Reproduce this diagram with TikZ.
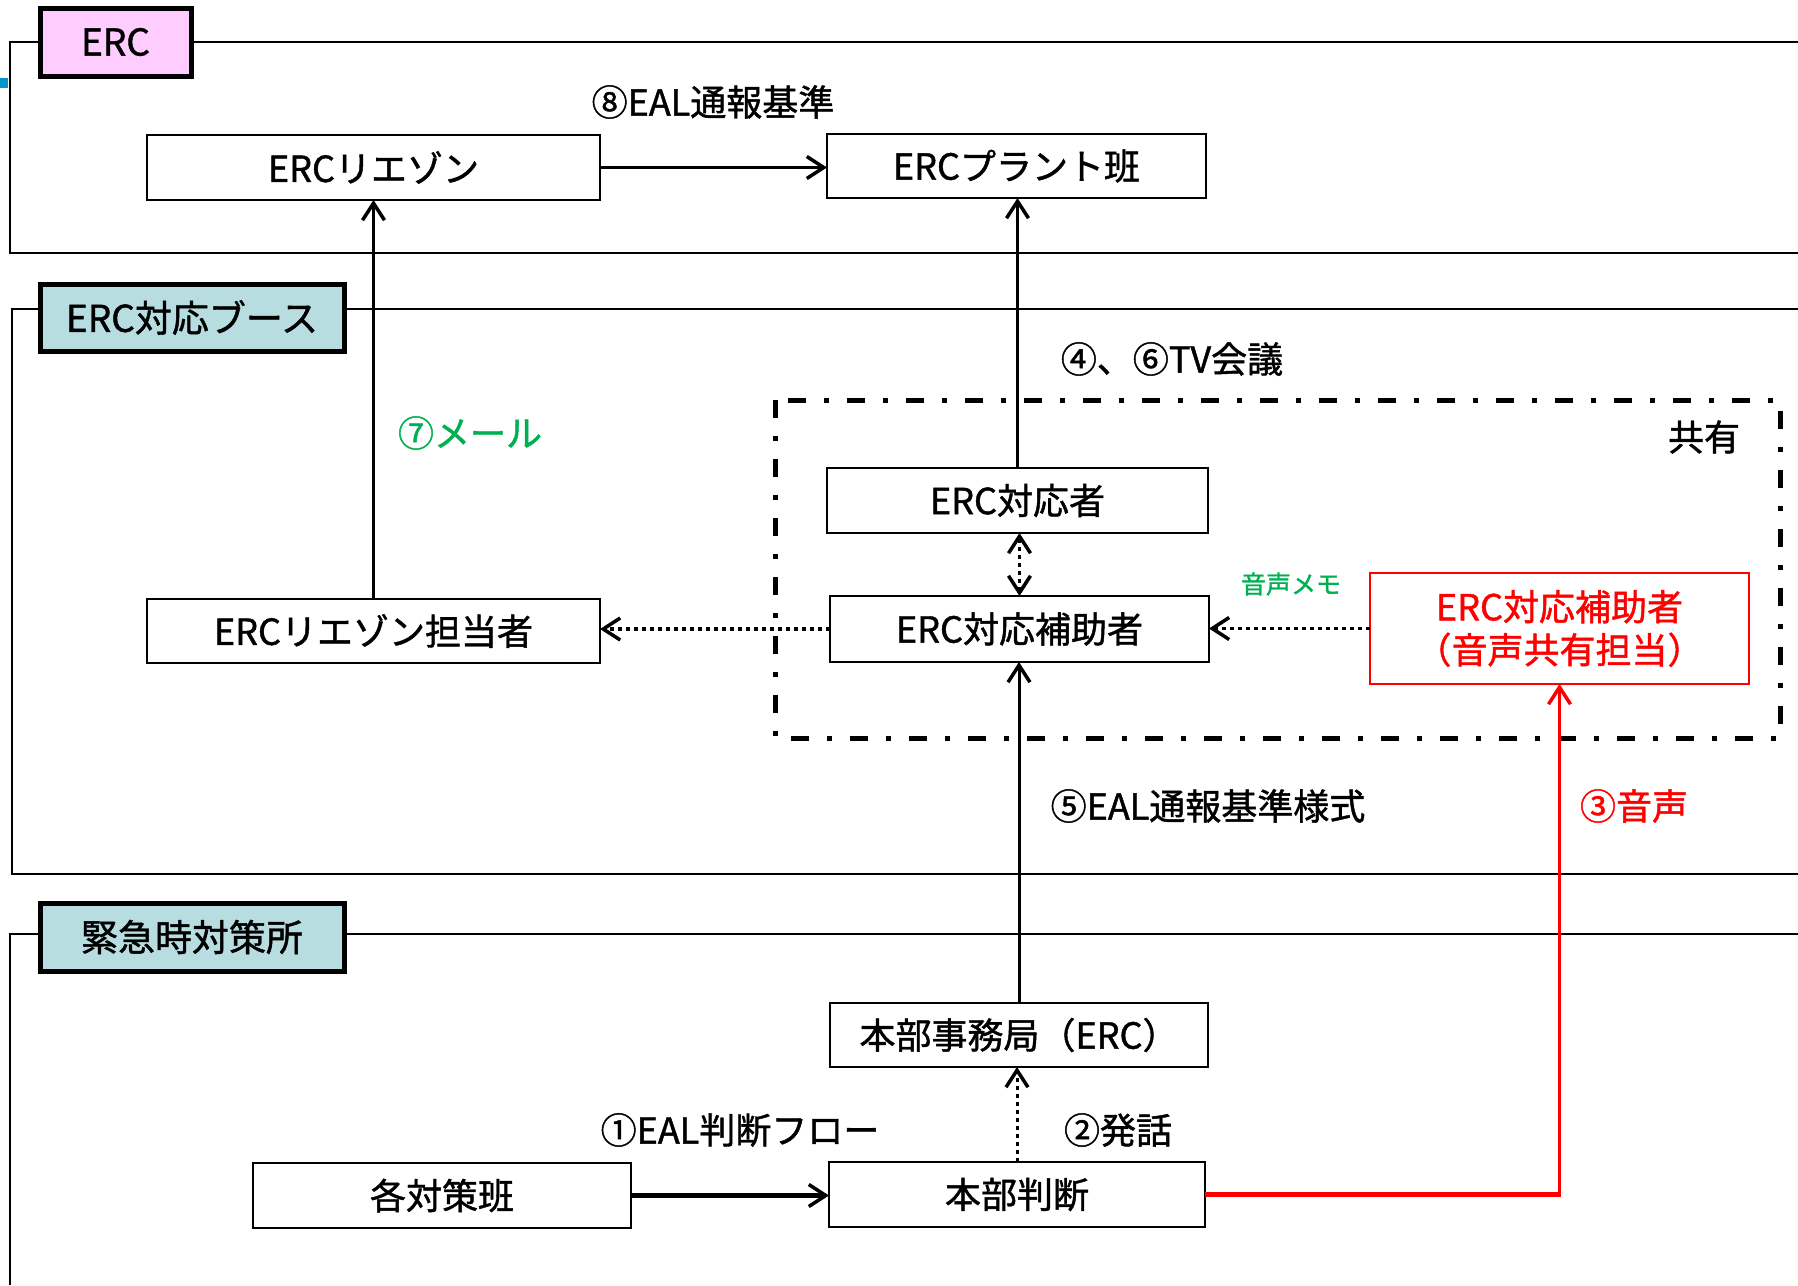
\documentclass[tikz,border=0pt]{standalone}
\usepackage{fontspec}
\setmainfont{Noto Sans CJK JP}[FakeBold=1.2]
\usetikzlibrary{arrows.meta}
\definecolor{pinkfill}{RGB}{255,204,255}
\definecolor{tealfill}{RGB}{183,221,224}
\definecolor{tickblue}{RGB}{0,150,200}
\definecolor{mygreen}{RGB}{0,176,80}
\definecolor{myred}{RGB}{255,0,0}
\tikzset{
  box/.style={draw=black, line width=2pt, fill=white, inner sep=0pt, outer sep=0pt,
    font=\fontsize{36pt}{43pt}\selectfont, align=center},
  redbox/.style={box, draw=myred, text=myred},
  secbox/.style={draw=black, line width=5pt, inner sep=0pt, outer sep=0pt,
    font=\fontsize{37pt}{43pt}\selectfont},
  frame/.style={draw=black, line width=2pt},
  lbl/.style={inner sep=0pt, font=\fontsize{36pt}{43pt}\selectfont},
  tip/.style={-{Straight Barb[length=17pt,width=22pt,line width=3.5pt]}},
  arr/.style={draw=black, line width=3pt, tip},
  dotarr/.style={draw=black, line width=3.5pt, dash pattern=on 4pt off 4pt, tip},
  dotdbl/.style={dotarr, {Straight Barb[length=17pt,width=22pt,line width=3.5pt]}-{Straight Barb[length=17pt,width=22pt,line width=3.5pt]}},
  shared/.style={draw=black, line width=5pt, dash pattern=on 18pt off 18pt on 5pt off 18pt},
}
\begin{document}
\begin{tikzpicture}[x=1pt,y=-1pt]
\useasboundingbox (0,0) rectangle (1798,1285);
% section frames
\draw[frame] (1798,42) -- (10,42) -- (10,253) -- (1798,253);
\draw[frame] (1798,309) -- (12,309) -- (12,874) -- (1798,874);
\draw[frame] (1798,934) -- (10,934) -- (10,1285);
\fill[tickblue] (0,78) rectangle (8,88);
% section labels
\node[secbox, fill=pinkfill, minimum width=151pt, minimum height=68pt] (secerc) at (115.5,42) {ERC};
\node[secbox, fill=tealfill, minimum width=304pt, minimum height=67pt] (secbooth) at (192,317.5) {ERC対応ブース};
\node[secbox, fill=tealfill, minimum width=304pt, minimum height=68pt] (secsite) at (192,937) {緊急時対策所};
% shared area
\draw[shared] (775,400) rectangle (1780,738);
% boxes
\node[box, minimum width=453pt, minimum height=65pt] (liaison) at (373.5,167.5) {ERCリエゾン};
\node[box, minimum width=379pt, minimum height=64pt] (plant) at (1016.5,166) {ERCプラント班};
\node[box, minimum width=381pt, minimum height=65pt] (taiou) at (1017.5,500.5) {ERC対応者};
\node[box, minimum width=379pt, minimum height=66pt] (hojo) at (1019.5,629) {ERC対応補助者};
\node[redbox, minimum width=379pt, minimum height=111pt] (onsei) at (1559.5,628.5) {ERC対応補助者\\（音声共有担当）};
\node[box, minimum width=453pt, minimum height=64pt] (liaisonT) at (373.5,631) {ERCリエゾン担当者};
\node[box, minimum width=378pt, minimum height=64pt] (jimu) at (1019,1035) {本部事務局（ERC）};
\node[box, minimum width=378pt, minimum height=65pt] (han) at (442,1195.5) {各対策班};
\node[box, minimum width=376pt, minimum height=65pt] (handan) at (1017,1194.5) {本部判断};
% labels
\node[lbl] (l8) at (713,102) {⑧EAL通報基準};
\node[lbl] (l46) at (1172,359) {④、⑥TV会議};
\node[lbl, text=mygreen] (l7) at (470,433) {⑦メール};
\node[lbl] (lshare) at (1704,437) {共有};
\node[lbl, text=mygreen, font=\fontsize{25pt}{30pt}\selectfont] (lmemo) at (1291,584) {音声メモ};
\node[lbl] (l5) at (1208,806) {⑤EAL通報基準様式};
\node[lbl, text=myred] (l3) at (1634,806) {③音声};
\node[lbl] (l1) at (740,1130) {①EAL判断フロー};
\node[lbl] (l2) at (1118,1130) {②発話};
% connectors
\draw[arr, line width=3.5pt] (liaison.east) -- (liaison.east -| plant.west);
\draw[arr, line width=2.5pt] (taiou.north) -- (taiou.north |- plant.south);
\draw[arr] (liaisonT.north) -- (liaison.south);
\draw[dotdbl, line width=3pt] (hojo.north) -- (hojo.north |- taiou.south);
\draw[dotarr] (onsei.west) -- (onsei.west -| hojo.east);
\draw[dotarr] (hojo.west) -- (hojo.west -| liaisonT.east);
\draw[arr] (jimu.north) -- (jimu.north |- hojo.south);
\draw[dotarr, line width=3pt] (handan.north) -- (handan.north |- jimu.south);
\draw[arr, line width=4.5pt] (han.east) -- (han.east -| handan.west);
\coordinate (rc) at (handan.east -| onsei.south);
\draw[draw=myred, line width=4.5pt] (handan.east) -- ([xshift=1.25pt]rc);
\draw[draw=myred, line width=2.5pt, tip] ([yshift=2.25pt]rc) -- (onsei.south);
\end{tikzpicture}
\end{document}
